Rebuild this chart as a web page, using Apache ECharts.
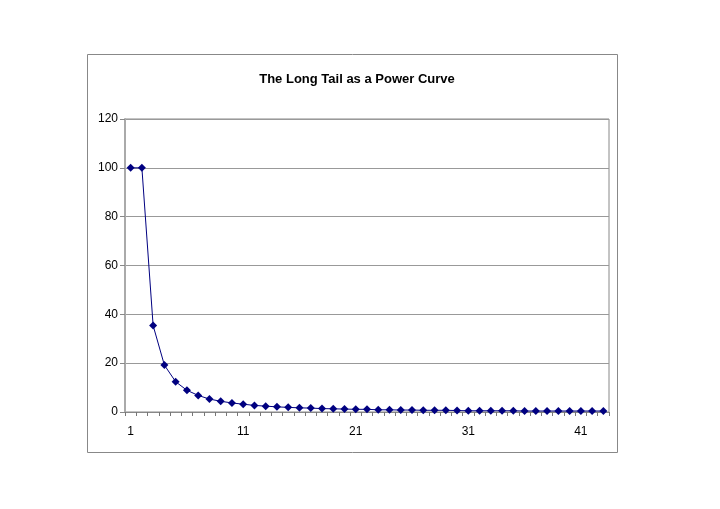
<!DOCTYPE html>
<html>
<head>
<meta charset="utf-8">
<script src="https://cdn.jsdelivr.net/npm/echarts@6/dist/echarts.min.js"></script>
<style>
html, body { margin: 0; padding: 0; background: #fff; }
#chart { width: 720px; height: 509px; }
</style>
</head>
<body>
<div id="chart"></div>
<script>
var categories = ['1', '2', '3', '4', '5', '6', '7', '8', '9', '10',
	'11', '12', '13', '14', '15', '16', '17', '18', '19', '20',
	'21', '22', '23', '24', '25', '26', '27', '28', '29', '30',
	'31', '32', '33', '34', '35', '36', '37', '38', '39', '40',
	'41', '42', '43'];
var values = [100, 100, 35.4, 19.2, 12.4, 8.9, 6.8, 5.3, 4.4, 3.7,
	3.2, 2.7, 2.4, 2.1, 1.9, 1.7, 1.6, 1.4, 1.3, 1.2,
	1.1, 1.1, 0.9, 0.9, 0.8, 0.8, 0.7, 0.7, 0.7, 0.6,
	0.5, 0.5, 0.5, 0.5, 0.5, 0.4, 0.4, 0.4, 0.4, 0.4,
	0.4, 0.4, 0.4];
var titleText = 'The Long Tail as a Power Curve';

var chartDiv = document.getElementById('chart');
var chart = echarts.init(chartDiv);
var option = {
	backgroundColor: '#fff',
	animation: false,
	title: {
		text: titleText,
		left: 352,
		top: 68,
		textAlign: 'center',
		textStyle: {
			fontFamily: 'Liberation Sans, Arial, sans-serif',
			fontSize: 13,
			fontWeight: 'bold',
			color: '#000'
		}
	},
	graphic: [{
		type: 'rect',
		shape: { x: 87.5, y: 54.5, width: 530, height: 398 },
		style: { fill: 'none', stroke: '#888', lineWidth: 1 },
		silent: true
	}],
	grid: {
		left: 125,
		top: 119,
		right: 111,
		bottom: 97,
		show: true,
		borderColor: '#888',
		borderWidth: 1
	},
	xAxis: {
		type: 'category',
		data: categories,
		boundaryGap: true,
		axisLine: { lineStyle: { color: '#888', width: 1 } },
		axisTick: {
			show: true,
			interval: 0,
			length: 4,
			lineStyle: { color: '#777', width: 1 }
		},
		axisLabel: {
			interval: function (index) { return index % 10 === 0; },
			margin: 14,
			color: '#000',
			fontFamily: 'Liberation Sans, Arial, sans-serif',
			fontSize: 12
		},
		splitLine: { show: false }
	},
	yAxis: {
		type: 'value',
		min: 0,
		max: 120,
		interval: 20,
		axisLine: { show: true, lineStyle: { color: '#aaa', width: 2 } },
		axisTick: { show: true, length: 5, lineStyle: { color: '#888' } },
		axisLabel: {
			margin: 7,
			color: '#000',
			fontFamily: 'Liberation Sans, Arial, sans-serif',
			fontSize: 12
		},
		splitLine: { lineStyle: { color: '#999', width: 1 } }
	},
	series: [{
		type: 'line',
		data: values,
		showAllSymbol: true,
		symbol: 'diamond',
		symbolSize: 8,
		itemStyle: { color: '#000080' },
		lineStyle: { color: '#000080', width: 1 }
	}]
};
if (option && typeof option === 'object') {
	chart.setOption(option, true);
}
</script>
</body>
</html>
